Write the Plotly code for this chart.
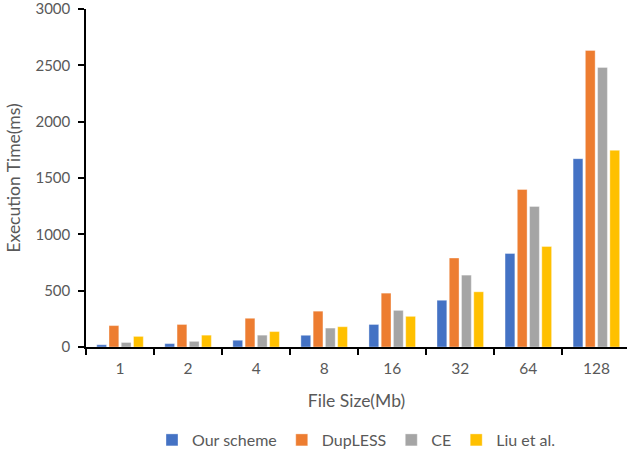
import plotly.graph_objects as go

categories = ["1", "2", "4", "8", "16", "32", "64", "128"]
our_scheme = [20, 30, 60, 104, 200, 415, 830, 1672]
dupless = [190, 200, 255, 318, 478, 790, 1398, 2633]
ce = [40, 50, 105, 168, 325, 638, 1248, 2482]
liu = [94, 105, 137, 180, 272, 490, 892, 1746]
y_ticks = [0, 500, 1000, 1500, 2000, 2500, 3000]

series = [
    ("Our scheme", our_scheme, "#4472C4"),
    ("DupLESS", dupless, "#ED7D31"),
    ("CE", ce, "#A5A5A5"),
    ("Liu et al.", liu, "#FFC000"),
]

font_family = "Lato, Carlito, Calibri, sans-serif"
gray = "#595959"

fig = go.Figure()
for name, vals, color in series:
    fig.add_trace(go.Bar(
        x=categories, y=vals, name=name,
        marker=dict(color=color, line=dict(color="rgba(255,255,255,0.6)", width=0.6)),
    ))

fig.update_layout(
    width=627, height=455,
    margin=dict(l=86, r=0, t=9, b=108),
    paper_bgcolor="white", plot_bgcolor="white",
    barmode="group", bargap=0.28, bargroupgap=0.2,
    font=dict(family=font_family, size=15, color=gray),
    showlegend=True,
    legend=dict(orientation="h", x=0.50, xanchor="center",
                yref="container", y=15 / 455, yanchor="middle",
                font=dict(size=16, color=gray), itemwidth=30, traceorder="normal"),
    xaxis=dict(
        type="category", range=[-0.5, 7.45], automargin=False,
        showline=True, linecolor="black", linewidth=1.5,
        ticks="outside", tickson="boundaries", ticklen=6, tickcolor="black", tickwidth=1.5,
        showgrid=False, zeroline=False, ticklabelstandoff=7,
        tickfont=dict(size=15.5, color=gray),
        title=dict(text="File Size(Mb)", font=dict(size=17.5, color=gray), standoff=18),
    ),
    yaxis=dict(
        range=[0, 3000.5], tickmode="array", tickvals=y_ticks,
        ticktext=[str(v) for v in y_ticks], automargin=False,
        ticklabeloverflow="allow",
        showline=True, linecolor="black", linewidth=1.5,
        ticks="outside", ticklen=6, tickcolor="black", tickwidth=1.5,
        showgrid=False, zeroline=False, ticklabelstandoff=5,
        tickfont=dict(size=15, color=gray),
        title=dict(text="Execution Time(ms)", font=dict(size=17.5, color=gray), standoff=10),
    ),
)

fig.write_html("out.html", config={"displayModeBar": False},
               post_script="document.body.style.margin='0';")
